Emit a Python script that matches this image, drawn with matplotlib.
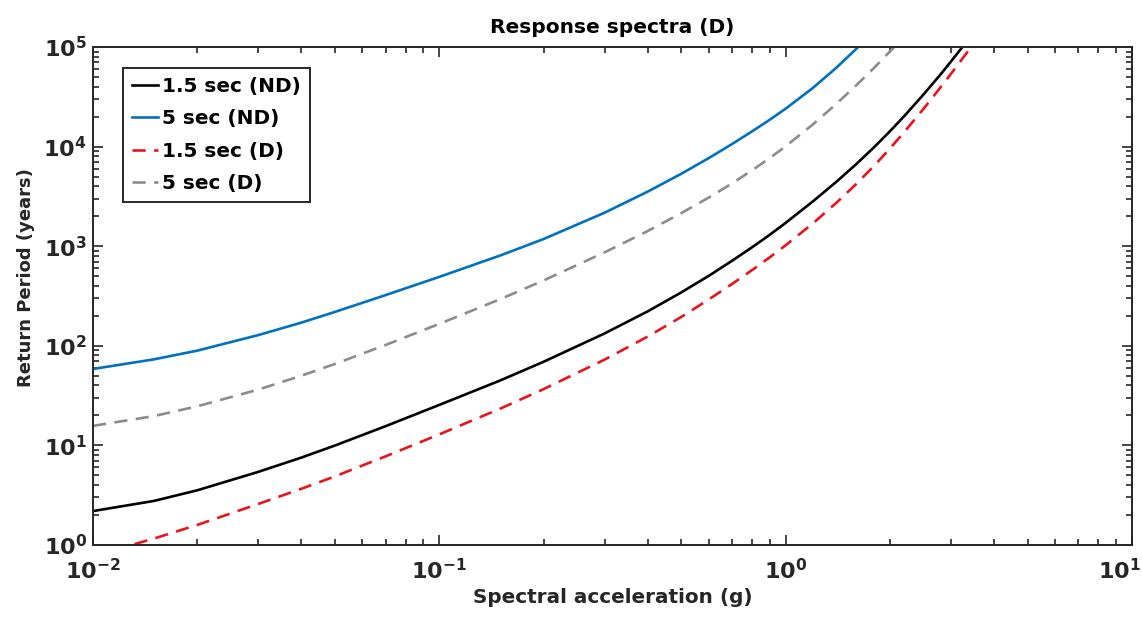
import numpy as np
import matplotlib
matplotlib.use("Agg")
import matplotlib.pyplot as plt
from matplotlib.ticker import FixedLocator, LogLocator, NullFormatter, LogFormatterSciNotation
from matplotlib.transforms import ScaledTranslation

# ---- data ----
x_nd15 = [0.01, 0.015, 0.02, 0.03, 0.04, 0.05, 0.07, 0.1, 0.15, 0.2, 0.3, 0.4, 0.5, 0.6, 0.7,
          0.8, 0.9, 1.0, 1.2, 1.4, 1.6, 1.8, 2.0, 2.2, 2.5, 2.8, 3.0, 3.24]
y_nd15 = [2.19, 2.77, 3.54, 5.42, 7.55, 9.98, 15.6, 25.5, 44.9, 69.1, 133, 222, 344, 504, 713,
          975, 1303, 1714, 2825, 4420, 6680, 9840, 14230, 20230, 33300, 53000, 71300, 100000]

x_nd5 = [0.01, 0.015, 0.02, 0.03, 0.04, 0.05, 0.07, 0.1, 0.15, 0.2, 0.3, 0.4, 0.5, 0.6, 0.7,
         0.8, 0.9, 1.0, 1.2, 1.4, 1.6, 1.62]
y_nd5 = [58.5, 73.1, 89.4, 128, 171, 219, 323, 492, 807, 1180, 2168, 3535, 5340, 7670, 10600,
         14220, 18620, 24030, 38930, 61800, 95900, 100000]

x_d15 = [0.01, 0.015, 0.02, 0.03, 0.04, 0.05, 0.07, 0.1, 0.15, 0.2, 0.3, 0.4, 0.5, 0.6, 0.7,
         0.8, 0.9, 1.0, 1.2, 1.4, 1.6, 1.8, 2.0, 2.2, 2.5, 2.8, 3.0, 3.2, 3.4, 3.43]
y_d15 = [0.776, 1.16, 1.59, 2.58, 3.67, 4.89, 7.77, 12.9, 23.4, 36.7, 72.6, 124, 195, 292, 417,
         575, 774, 1021, 1700, 2720, 4220, 6400, 9550, 14000, 23900, 39300, 53600, 72100, 95900, 100000]

x_d5 = [0.01, 0.015, 0.02, 0.03, 0.04, 0.05, 0.07, 0.1, 0.15, 0.2, 0.3, 0.4, 0.5, 0.6, 0.7,
        0.8, 0.9, 1.0, 1.2, 1.4, 1.6, 1.8, 2.0, 2.06]
y_d5 = [15.7, 19.7, 24.7, 36.3, 50.1, 65.8, 102, 166, 294, 453, 867, 1422, 2150, 3080, 4270,
        5780, 7680, 10070, 16750, 26800, 41300, 61700, 90200, 100000]

labels = ["1.5 sec (ND)", "5 sec (ND)", "1.5 sec (D)", "5 sec (D)"]
x_major = [1e-2, 1e-1, 1e0, 1e1]
y_major = [1e0, 1e1, 1e2, 1e3, 1e4, 1e5]

plt.rcParams['font.family'] = ['DejaVu Sans']
plt.rcParams['font.weight'] = 'bold'
plt.rcParams['mathtext.default'] = 'regular'
plt.rcParams['axes.unicode_minus'] = False

fig = plt.figure(figsize=(11.42, 6.21), dpi=100)
ax = fig.add_axes([0.0814, 0.1224, 0.9098, 0.8019])

lw = 1.9
ax.plot(x_nd15, y_nd15, color='black', lw=lw, label=labels[0])
ax.plot(x_nd5, y_nd5, color='#0072BD', lw=lw, label=labels[1])
ax.plot(x_d15, y_d15, color='#E8141B', lw=lw, ls=(0, (5, 3.2)), label=labels[2])
ax.plot(x_d5, y_d5, color='#8C8C8C', lw=lw, ls=(0, (5, 3.2)), label=labels[3])

ax.set_xscale('log')
ax.set_yscale('log')
ax.set_xlim(1e-2, 1e1)
ax.set_ylim(1e0, 1e5)

ax.xaxis.set_major_locator(FixedLocator(x_major))
ax.yaxis.set_major_locator(FixedLocator(y_major))
ax.xaxis.set_major_formatter(LogFormatterSciNotation())
ax.yaxis.set_major_formatter(LogFormatterSciNotation())
ax.xaxis.set_minor_locator(LogLocator(base=10, subs=np.arange(2, 10), numticks=20))
ax.yaxis.set_minor_locator(LogLocator(base=10, subs=np.arange(2, 10), numticks=20))
ax.xaxis.set_minor_formatter(NullFormatter())
ax.yaxis.set_minor_formatter(NullFormatter())

axcol = '#262626'
for s in ax.spines.values():
    s.set_linewidth(1.4)
    s.set_color(axcol)
ax.tick_params(which='both', direction='in', top=True, right=True, color=axcol, width=1.2)
ax.tick_params(which='major', length=7, labelsize=16, labelcolor=axcol)
ax.tick_params(which='minor', length=4)
ax.tick_params(axis='x', which='major', pad=9.5)
ax.tick_params(axis='y', which='major', pad=4.5)

fig.canvas.draw()
xt = ax.get_xticklabels()
for lab in xt + ax.get_yticklabels():
    lab.set_fontweight('bold')
xt[-1].set_horizontalalignment('right')
xt[-1].set_transform(xt[-1].get_transform() + ScaledTranslation(9 / 100, 0, fig.dpi_scale_trans))

ax.set_xlabel('Spectral acceleration (g)', fontsize=14.4, fontweight='bold', color=axcol, labelpad=3)
ax.set_ylabel('Return Period (years)', fontsize=13, fontweight='bold', color=axcol)
ax.yaxis.set_label_coords(-0.056, 0.538)
ax.set_title('Response spectra (D)', fontsize=14.5, fontweight='bold', color='black', pad=10)

leg = ax.legend(loc='upper left', bbox_to_anchor=(0.029, 0.958), fontsize=14.4,
                handlelength=1.3, handletextpad=0.2, borderaxespad=0.0, borderpad=0.45,
                labelspacing=0.67, fancybox=False, framealpha=1, edgecolor=axcol)
leg.get_frame().set_linewidth(1.4)
for t in leg.get_texts():
    t.set_fontweight('bold')

fig.savefig('out.png', dpi=100)
